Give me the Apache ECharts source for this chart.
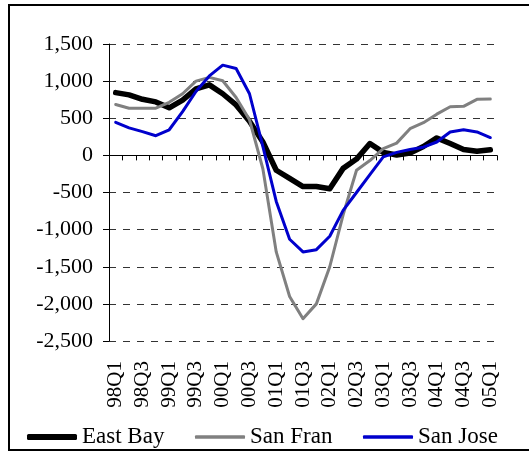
<!DOCTYPE html>
<html>
<head>
<meta charset="utf-8">
<script src="https://cdn.jsdelivr.net/npm/echarts@6/dist/echarts.min.js"></script>
<style>
html,body{margin:0;padding:0;background:#fff;}
#chart{width:529px;height:451px;}
</style>
</head>
<body>
<div id="chart"></div>
<script>
const categories = ['98Q1','98Q2','98Q3','98Q4','99Q1','99Q2','99Q3','99Q4','00Q1','00Q2','00Q3','00Q4','01Q1','01Q2','01Q3','01Q4','02Q1','02Q2','02Q3','02Q4','03Q1','03Q2','03Q3','03Q4','04Q1','04Q2','04Q3','04Q4','05Q1'];
const eastBay = [845, 815, 755, 720, 640, 745, 895, 950, 830, 680, 460, 180, -200, -310, -420, -420, -450, -175, -50, 160, 40, 5, 30, 120, 235, 160, 80, 55, 75];
const sanFran = [685, 635, 635, 635, 715, 830, 1000, 1050, 1005, 780, 480, -180, -1300, -1900, -2200, -2000, -1500, -800, -200, -70, 90, 165, 360, 440, 555, 655, 660, 755, 760];
const sanJose = [445, 370, 320, 265, 345, 590, 860, 1070, 1215, 1170, 830, 120, -620, -1130, -1300, -1270, -1090, -740, -500, -260, -20, 40, 80, 110, 180, 315, 345, 315, 240];
const seriesNames = ['East Bay', 'San Fran', 'San Jose'];
const yMin = -2500, yMax = 1500, yStep = 500;

function fmt(v) {
  const s = Math.abs(v).toString().replace(/\B(?=(\d{3})+(?!\d))/g, ',');
  return (v < 0 ? '-' : '') + s;
}

const FONT = 'Liberation Serif';
const chart = echarts.init(document.getElementById('chart'), null, {renderer: 'canvas'});

function legendFor(name, left, h) {
  return {
    orient: 'horizontal',
    left: left,
    top: 425,
    padding: 0,
    icon: 'roundRect',
    itemWidth: 50,
    itemHeight: h,
    itemGap: 5,
    formatter: '{s|{name}}',
    textStyle: {
      fontFamily: FONT, fontSize: 23, lineHeight: 24, color: '#000',
      rich: {s: {fontFamily: FONT, fontSize: 23, lineHeight: 24, color: '#000'}}
    },
    selectedMode: false,
    data: [name]
  };
}

chart.setOption({
  animation: false,
  backgroundColor: '#fff',
  textStyle: {fontFamily: FONT},
  grid: {left: 109, top: 44, width: 388, height: 297, containLabel: false},
  graphic: [{
    type: 'rect',
    shape: {x: 9, y: 5, width: 540, height: 445},
    style: {fill: 'none', stroke: '#000', lineWidth: 2},
    silent: true, z: -1
  }],
  legend: [
    legendFor(seriesNames[0], 27, 6),
    legendFor(seriesNames[1], 195, 3.5),
    legendFor(seriesNames[2], 363, 3.5)
  ],
  xAxis: [{
    type: 'category',
    data: categories,
    boundaryGap: true,
    position: 'bottom',
    axisLine: {onZero: true, lineStyle: {color: '#000', width: 1}},
    axisTick: {show: true, interval: 0, length: 5, lineStyle: {color: '#000'}},
    axisLabel: {show: false},
    splitLine: {show: false}
  }, {
    type: 'category',
    data: categories,
    boundaryGap: true,
    position: 'bottom',
    axisLine: {show: false, onZero: false},
    axisTick: {show: false},
    axisLabel: {show: true, interval: 1, rotate: 90, margin: 20, fontFamily: FONT, fontSize: 21, color: '#000'},
    splitLine: {show: false}
  }],
  yAxis: {
    type: 'value',
    min: yMin, max: yMax, interval: yStep,
    axisLine: {show: true, lineStyle: {color: '#000', width: 1}},
    axisTick: {show: true, length: 6, lineStyle: {color: '#000'}},
    axisLabel: {margin: 16, fontFamily: FONT, fontSize: 22, color: '#000', formatter: fmt},
    splitLine: {show: true, lineStyle: {color: '#333', width: 1, type: [7, 7]}}
  },
  series: [{
    name: seriesNames[0], type: 'line', data: eastBay, xAxisIndex: 0,
    symbol: 'none', lineStyle: {color: '#000', width: 5.5, cap: 'round', join: 'round'},
    itemStyle: {color: '#000'}
  }, {
    name: seriesNames[1], type: 'line', data: sanFran, xAxisIndex: 0,
    symbol: 'none', lineStyle: {color: '#808080', width: 3, cap: 'round', join: 'round'},
    itemStyle: {color: '#808080'}
  }, {
    name: seriesNames[2], type: 'line', data: sanJose, xAxisIndex: 0,
    symbol: 'none', lineStyle: {color: '#0000CC', width: 3, cap: 'round', join: 'round'},
    itemStyle: {color: '#0000CC'}
  }]
});
</script>
</body>
</html>
